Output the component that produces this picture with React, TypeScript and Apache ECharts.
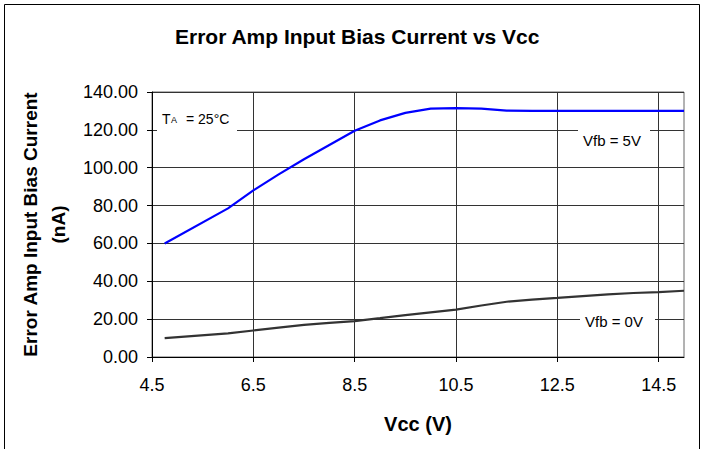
import React, { useEffect, useRef } from 'react';
import * as echarts from 'echarts';

// X axis tick values (Vcc, V)
const vccTicks = [4.5, 6.5, 8.5, 10.5, 12.5, 14.5];

// Vfb = 5V series
const vcc5 = [4.75, 6, 6.5, 7, 7.5, 8, 8.5, 9, 9.5, 10, 10.5, 11, 11.5, 12, 13, 14, 15];
const ib5 = [60, 78.5, 88, 96.5, 104.5, 112, 119.5, 125, 129, 131.2, 131.5, 131.2, 130.2, 130, 130, 130, 130];

// Vfb = 0V series
const vcc0 = [4.75, 6, 6.5, 7, 7.5, 8, 8.5, 9, 9.5, 10, 10.5, 11, 11.5, 12, 12.5, 13, 13.5, 14, 14.5, 15];
const ib0 = [10, 12.5, 14, 15.5, 17, 18, 19, 20.5, 22.1, 23.6, 25, 27.2, 29.2, 30.3, 31.2, 32.2, 33.1, 33.8, 34.3, 35];

const FONT = '"Liberation Sans", Arial, sans-serif';

export default function App() {
  const ref = useRef<HTMLDivElement>(null);

  useEffect(() => {
    if (!ref.current) return;
    const chart = echarts.init(ref.current, undefined, { renderer: 'svg' });
    const option: any = {
      animation: false,
      backgroundColor: '#ffffff',
      textStyle: { fontFamily: FONT },
      title: {
        text: 'Error Amp Input Bias Current vs Vcc',
        left: 175,
        top: 26,
        padding: 0,
        textStyle: { fontFamily: FONT, fontSize: 21, fontWeight: 'bold', color: '#000' },
      },
      grid: {
        left: 152,
        top: 92,
        right: 20,
        bottom: 92,
        show: true,
        borderColor: '#666',
        borderWidth: 1,
        backgroundColor: 'transparent',
      },
      xAxis: {
        type: 'value',
        min: 4.5,
        max: 15,
        name: 'Vcc (V)',
        nameLocation: 'middle',
        nameGap: 57,
        nameTextStyle: { fontFamily: FONT, fontSize: 20, fontWeight: 'bold', color: '#000' },
        axisLine: { show: true, lineStyle: { color: '#000', width: 1 } },
        axisTick: { show: true, length: 5, customValues: vccTicks, lineStyle: { color: '#000' } },
        axisLabel: {
          customValues: vccTicks,
          formatter: (v: number) => v.toFixed(1),
          fontFamily: FONT,
          fontSize: 18,
          color: '#000',
          margin: 19,
        },
        splitLine: { show: true, lineStyle: { color: '#333', width: 1 } },
      },
      yAxis: {
        type: 'value',
        min: 0,
        max: 140,
        interval: 20,
        name: 'Error Amp Input Bias Current\n(nA)',
        nameLocation: 'middle',
        nameGap: 76,
        nameTextStyle: { fontFamily: FONT, fontSize: 19, fontWeight: 'bold', color: '#000', lineHeight: 28, align: 'center' },
        axisLine: { show: true, lineStyle: { color: '#000', width: 1 } },
        axisTick: { show: true, length: 5, lineStyle: { color: '#000' } },
        axisLabel: {
          formatter: (v: number) => v.toFixed(2),
          fontFamily: FONT,
          fontSize: 18,
          color: '#000',
          margin: 14,
        },
        splitLine: { show: true, lineStyle: { color: '#333', width: 1 } },
      },
      series: [
        {
          name: 'Vfb = 5V',
          type: 'line',
          data: vcc5.map((x, i) => [x, ib5[i]]),
          symbol: 'none',
          lineStyle: { color: '#0000ff', width: 2.2 },
          z: 3,
        },
        {
          name: 'Vfb = 0V',
          type: 'line',
          data: vcc0.map((x, i) => [x, ib0[i]]),
          symbol: 'none',
          lineStyle: { color: '#333333', width: 2.2 },
          z: 3,
        },
      ],
      graphic: [
        {
          type: 'rect',
          silent: true,
          z: 100,
          shape: { x: 4.5, y: 4.5, width: 695, height: 460 },
          style: { fill: 'none', stroke: '#000', lineWidth: 1 },
        },
        // T_A annotation
        { type: 'rect', z: 100, silent: true, shape: { x: 157, y: 106, width: 80, height: 28 }, style: { fill: '#fff' } },
        { type: 'text', z: 101, x: 162, y: 119, style: { text: 'T', font: `14px ${FONT}`, fill: '#000', verticalAlign: 'middle' } },
        { type: 'text', z: 101, x: 171, y: 120, style: { text: 'A', font: `9px ${FONT}`, fill: '#000', verticalAlign: 'middle' } },
        { type: 'text', z: 101, x: 186, y: 119, style: { text: '= 25°C', font: `14px ${FONT}`, fill: '#000', verticalAlign: 'middle' } },
        // Vfb = 5V label
        { type: 'rect', z: 100, silent: true, shape: { x: 578, y: 128, width: 72, height: 24 }, style: { fill: '#fff' } },
        { type: 'text', z: 101, x: 583, y: 140, style: { text: 'Vfb = 5V', font: `15px ${FONT}`, fill: '#000', verticalAlign: 'middle' } },
        // Vfb = 0V label
        { type: 'rect', z: 100, silent: true, shape: { x: 580, y: 311, width: 75, height: 20 }, style: { fill: '#fff' } },
        { type: 'text', z: 101, x: 585, y: 321, style: { text: 'Vfb = 0V', font: `15px ${FONT}`, fill: '#000', verticalAlign: 'middle' } },
      ],
    };
    chart.setOption(option);
    return () => chart.dispose();
  }, []);

  return (
    <div
      ref={ref}
      style={{ position: 'absolute', left: 0, top: 0, width: 704, height: 449, background: '#fff' }}
    />
  );
}
